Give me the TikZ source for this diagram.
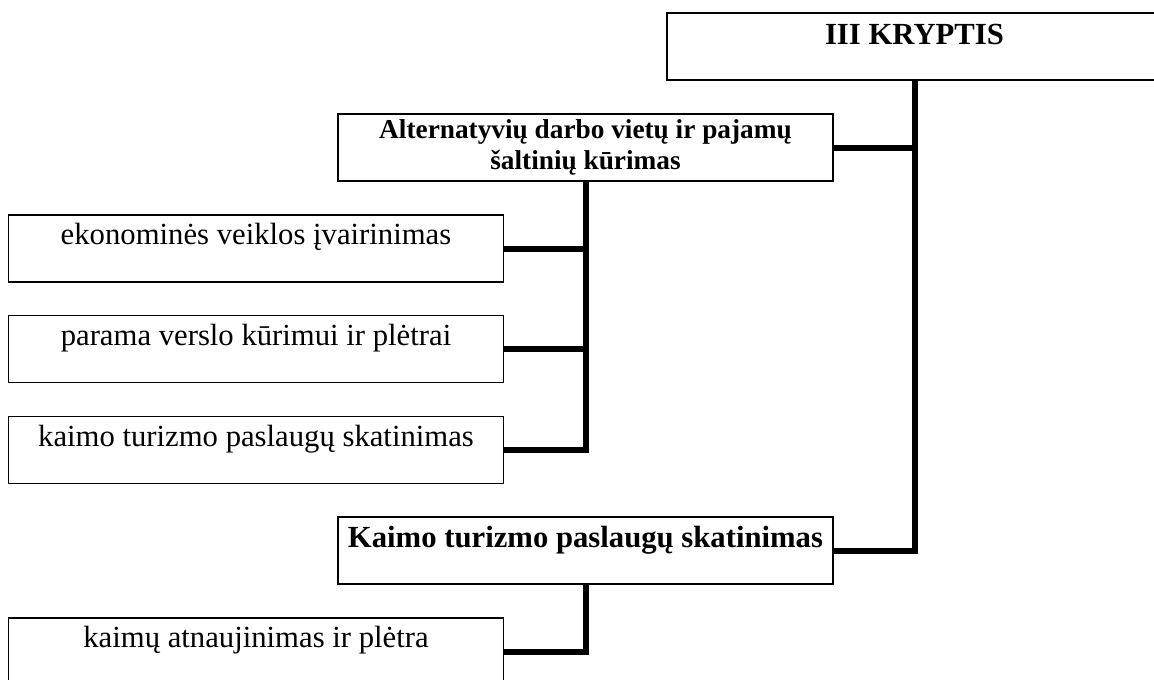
\documentclass[tikz,border=0pt]{standalone}
\usepackage{fontspec}
\setmainfont{Liberation Serif}
\begin{document}
\begin{tikzpicture}[x=1pt,y=-1pt,
  box/.style={draw=black,line width=1.3pt,minimum width=495pt,minimum height=67pt,inner sep=0pt,fill=white},
  conn/.style={draw=black,line width=6pt},
  lbl/.style={anchor=base,inner sep=0pt,font=\fontsize{30.7}{35}\selectfont},
  blbl/.style={anchor=base,inner sep=0pt,font=\fontsize{30.7}{35}\selectfont\bfseries},
  slbl/.style={anchor=base,inner sep=0pt,font=\fontsize{27.3}{31}\selectfont\bfseries}]
\useasboundingbox (0,0) rectangle (1154,680);
% boxes
\node[box] (top) at (914.5,46.5) {};
\node[box] (alt) at (585.5,147.5) {};
\node[box] (a) at (256,248.5) {};
\node[box] (b) at (256,349) {};
\node[box] (c) at (256,450) {};
\node[box] (kaimo) at (585.5,550.5) {};
\node[box] (d) at (256,651.5) {};
% texts
\node[blbl] (ttop) at (914.5,44) {III KRYPTIS};
\node[slbl] (talt1) at (585.5,138) {Alternatyvių darbo vietų ir pajamų};
\node[slbl] (talt2) at (585.5,169) {šaltinių kūrimas};
\node[lbl] (ta) at (256,244) {ekonominės veiklos įvairinimas};
\node[lbl] (tb) at (256,345) {parama verslo kūrimui ir plėtrai};
\node[lbl] (tc) at (256,446) {kaimo turizmo paslaugų skatinimas};
\node[blbl] (tk) at (585.5,547) {Kaimo turizmo paslaugų skatinimas};
\node[lbl] (td) at (256,647) {kaimų atnaujinimas ir plėtra};
% connectors
\draw[conn] (top.south) |- (kaimo.east);
\draw[conn] (alt.east) -- (alt.east -| top.south);
\draw[conn] (alt.south) |- (c.east);
\draw[conn] (a.east) -- (a.east -| alt.south);
\draw[conn] (b.east) -- (b.east -| alt.south);
\draw[conn] (kaimo.south) |- (d.east);
\end{tikzpicture}
\end{document}
